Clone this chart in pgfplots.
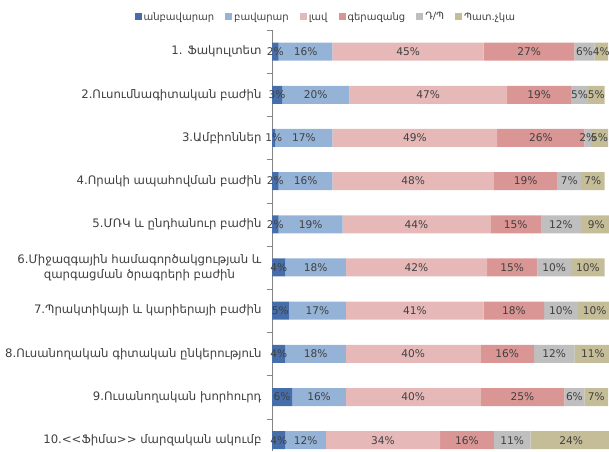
\documentclass[border=0pt]{standalone}
\usepackage{fontspec}
\setmainfont{DejaVu Sans}
\usepackage{pgfplots}
\usepackage{pgfplotstable}
\pgfplotsset{compat=1.18}

\definecolor{c1}{RGB}{70,110,170}
\definecolor{c2}{RGB}{149,179,215}
\definecolor{c3}{RGB}{230,185,184}
\definecolor{c4}{RGB}{217,150,148}
\definecolor{c5}{RGB}{191,191,191}
\definecolor{c6}{RGB}{196,189,151}
\definecolor{txt}{RGB}{64,64,64}
\definecolor{axisgray}{RGB}{134,134,134}

% one row per category, one column per rating
\pgfplotstableread{
idx a b c d e f
0 2 16 45 27 6 4
1 3 20 47 19 5 5
2 1 17 49 26 2 5
3 2 16 48 19 7 7
4 2 19 44 15 12 9
5 4 18 42 15 10 10
6 5 17 41 18 10 10
7 4 18 40 16 12 11
8 6 16 40 25 6 7
9 4 12 34 16 11 24
}\data

\begin{document}
\begin{tikzpicture}
\begin{axis}[
    at={(272pt,0pt)}, anchor=south west,
    scale only axis, width=336pt, height=421pt,
    xbar stacked, bar width=18pt,
    xmin=0, xmax=100,
    ymin=-0.5, ymax=9.25, y dir=reverse,
    axis lines=left,
    x axis line style={draw=none},
    y axis line style={-, draw=axisgray},
    xtick=\empty,
    ytick={0,...,9},
    major tick length=0pt,
    minor ytick={-0.5,0.5,...,8.5},
    minor tick length=5pt,
    tick align=outside,
    minor y tick style={draw=axisgray},
    yticklabels={
        {1. Ֆակուլտետ},
        {2.Ուսումնագիտական բաժին},
        {3.Ամբիոններ},
        {4.Որակի ապահովման բաժին},
        {5.ՄՌԿ և ընդհանուր բաժին},
        {6.Միջազգային համագործակցության և\\զարգացման ծրագրերի բաժին},
        {7.Պրակտիկայի և կարիերայի բաժին},
        {8.Ուսանողական գիտական ընկերություն},
        {9.Ուսանողական խորհուրդ},
        {10.<\kern0pt<Ֆիմա>\kern0pt> մարզական ակումբ}},
    yticklabel style={align=center, text=txt, xshift=-7pt,
        font=\fontsize{11.7}{15}\selectfont},
    point meta=explicit,
    nodes near coords={\pgfmathprintnumber[fixed,precision=0,assume math mode=true]{\pgfplotspointmeta}\%},
    every node near coord/.append style={anchor=center, text=txt,
        font=\fontsize{10.6}{12}\selectfont, inner sep=0pt},
    legend columns=6,
    legend style={draw=none, fill=none, at={(0.16,1.031)}, anchor=center,
        text=txt, inner sep=0pt,
        /tikz/every even column/.append style={column sep=9pt}},
    legend image code/.code={\fill[#1] (0pt,-3.5pt) rectangle (7pt,3.5pt);},
    clip=false,
]
\addplot[fill=c1, draw=none] table[x=a, y=idx, meta=a] {\data};
\addplot[fill=c2, draw=none] table[x=b, y=idx, meta=b] {\data};
\addplot[fill=c3, draw=none] table[x=c, y=idx, meta=c] {\data};
\addplot[fill=c4, draw=none] table[x=d, y=idx, meta=d] {\data};
\addplot[fill=c5, draw=none] table[x=e, y=idx, meta=e] {\data};
\addplot[fill=c6, draw=none] table[x=f, y=idx, meta=f] {\data};
\legend{անբավարար, բավարար, լավ, գերազանց, Դ/Պ, Պատ.չկա}
\end{axis}
\pgfresetboundingbox
\useasboundingbox (0pt,0pt) rectangle (609pt,451pt);
\end{tikzpicture}
\end{document}
